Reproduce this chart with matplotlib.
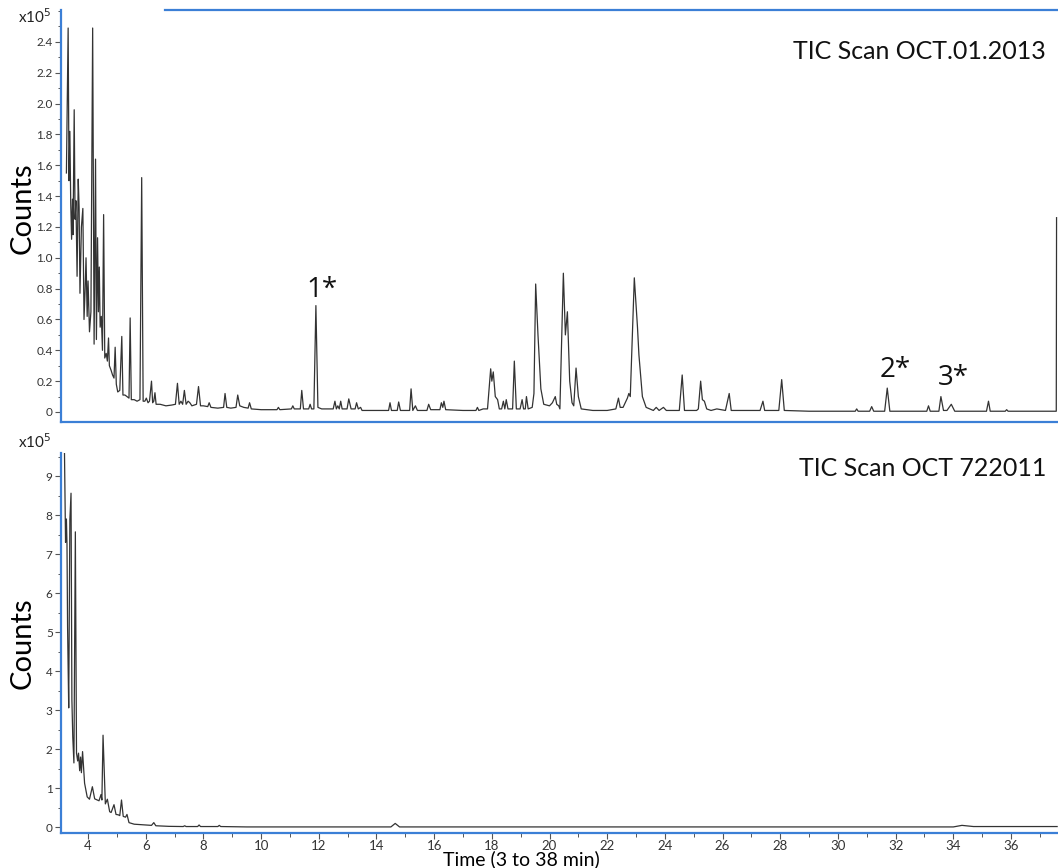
import matplotlib
matplotlib.use("Agg")
import matplotlib.pyplot as plt
from matplotlib.ticker import MultipleLocator, FixedLocator

plt.rcParams['font.family'] = ['Lato', 'DejaVu Sans']

# counts in units of 1e5, time in minutes
top_t = [3.25, 3.31, 3.34, 3.37, 3.40, 3.43, 3.46, 3.48, 3.52, 3.55, 3.58, 3.62, 3.66, 3.69, 3.72,
         3.77, 3.82, 3.86, 3.90, 3.93, 3.97, 4.00, 4.05, 4.10, 4.16, 4.21, 4.26, 4.29, 4.33, 4.36,
         4.39, 4.42, 4.46, 4.50, 4.54, 4.58, 4.63, 4.67, 4.71, 4.74, 4.80, 4.85, 4.90, 4.94, 4.98,
         5.03, 5.10, 5.17, 5.21, 5.28, 5.35, 5.42, 5.46, 5.50, 5.60, 5.70, 5.80, 5.86, 5.91, 5.97,
         6.02, 6.08, 6.13, 6.20, 6.24, 6.28, 6.32, 6.36, 6.50, 6.70, 6.90, 7.03, 7.10, 7.16, 7.22,
         7.28, 7.34, 7.40, 7.47, 7.53, 7.60, 7.76, 7.83, 7.90, 8.00, 8.15, 8.20, 8.26, 8.50, 8.70,
         8.75, 8.81, 8.95, 9.13, 9.19, 9.26, 9.40, 9.55, 9.60, 9.66, 10.0, 10.55, 10.6, 10.65, 11.05,
         11.1, 11.15, 11.36, 11.41, 11.47, 11.65, 11.70, 11.75, 11.83, 11.90, 11.97, 12.1, 12.5, 12.56,
         12.61, 12.66, 12.71, 12.76, 12.81, 12.98, 13.04, 13.12, 13.26, 13.31, 13.37, 13.45, 13.5,
         14.0, 14.42, 14.47, 14.52, 14.72, 14.77, 14.83, 15.15, 15.20, 15.26, 15.35, 15.42, 15.75,
         15.81, 15.88, 16.2, 16.25, 16.30, 16.34, 16.40, 17.0, 17.45, 17.5, 17.55, 17.7, 17.85, 17.96,
         18.00, 18.05, 18.12, 18.2, 18.26, 18.34, 18.4, 18.45, 18.5, 18.56, 18.72, 18.78, 18.85,
         18.98, 19.05, 19.1, 19.16, 19.2, 19.26, 19.4, 19.46, 19.52, 19.6, 19.7, 19.8, 20.0, 20.1,
         20.2, 20.25, 20.32, 20.36, 20.48, 20.55, 20.62, 20.7, 20.78, 20.84, 20.92, 21.0, 21.1,
         21.5, 22.0, 22.3, 22.39, 22.45, 22.55, 22.7, 22.75, 22.80, 22.94, 23.05, 23.1, 23.22, 23.35,
         23.6, 23.7, 23.8, 23.95, 24.05, 24.5, 24.6, 24.68, 25.1, 25.16, 25.24, 25.3, 25.37, 25.45,
         25.6, 25.8, 26.1, 26.23, 26.3, 27.3, 27.4, 27.46, 27.95, 28.05, 28.14, 29.0, 30.6, 30.65,
         30.7, 31.1, 31.17, 31.24, 31.62, 31.71, 31.8, 33.08, 33.14, 33.2, 33.5, 33.57, 33.66, 33.78,
         33.93, 34.05, 35.15, 35.22, 35.28, 35.8, 35.85, 35.9, 37.57, 37.58]
top_c = [1.55, 2.49, 1.50, 1.82, 1.35, 1.12, 1.38, 1.15, 1.96, 1.25, 1.37, 0.88, 1.51, 1.33, 0.77,
         1.20, 1.32, 0.60, 0.80, 1.00, 0.62, 0.85, 0.52, 0.65, 2.49, 0.44, 1.64, 0.47, 1.13, 0.65,
         0.94, 0.55, 0.62, 0.40, 1.28, 0.35, 0.38, 0.33, 0.48, 0.30, 0.27, 0.24, 0.22, 0.42, 0.18,
         0.13, 0.14, 0.49, 0.11, 0.11, 0.10, 0.09, 0.61, 0.08, 0.08, 0.07, 0.08, 1.52, 0.07, 0.07,
         0.09, 0.06, 0.07, 0.20, 0.06, 0.07, 0.125, 0.05, 0.05, 0.04, 0.045, 0.05, 0.186, 0.05, 0.07,
         0.05, 0.14, 0.05, 0.07, 0.06, 0.04, 0.05, 0.165, 0.04, 0.04, 0.035, 0.06, 0.03, 0.025, 0.03,
         0.12, 0.03, 0.025, 0.03, 0.11, 0.04, 0.03, 0.025, 0.06, 0.02, 0.015, 0.015, 0.03, 0.015, 0.02,
         0.04, 0.02, 0.02, 0.14, 0.02, 0.02, 0.05, 0.02, 0.02, 0.69, 0.03, 0.02, 0.02, 0.07,
         0.02, 0.04, 0.02, 0.07, 0.02, 0.02, 0.085, 0.02, 0.02, 0.06, 0.02, 0.03, 0.01,
         0.01, 0.01, 0.06, 0.01, 0.01, 0.065, 0.01, 0.01, 0.15, 0.01, 0.04, 0.01, 0.01,
         0.05, 0.015, 0.015, 0.06, 0.03, 0.07, 0.015, 0.01, 0.01, 0.03, 0.01, 0.02, 0.02, 0.28,
         0.20, 0.26, 0.10, 0.08, 0.02, 0.02, 0.07, 0.02, 0.08, 0.02, 0.02, 0.33, 0.02,
         0.02, 0.08, 0.02, 0.02, 0.10, 0.02, 0.03, 0.12, 0.83, 0.50, 0.15, 0.05, 0.04, 0.06,
         0.10, 0.05, 0.04, 0.02, 0.90, 0.50, 0.65, 0.20, 0.06, 0.04, 0.285, 0.10, 0.02,
         0.01, 0.01, 0.02, 0.09, 0.03, 0.03, 0.09, 0.12, 0.10, 0.87, 0.55, 0.37, 0.10, 0.03,
         0.01, 0.03, 0.01, 0.03, 0.01, 0.01, 0.24, 0.01, 0.01, 0.02, 0.20, 0.08, 0.07, 0.02,
         0.01, 0.02, 0.01, 0.12, 0.01, 0.01, 0.07, 0.01, 0.01, 0.21, 0.01, 0.005, 0.005, 0.02,
         0.005, 0.005, 0.035, 0.005, 0.005, 0.155, 0.005, 0.005, 0.04, 0.005, 0.005, 0.10, 0.01, 0.01,
         0.05, 0.005, 0.005, 0.07, 0.005, 0.005, 0.015, 0.005, 0.005, 1.26]

bot_t = [3.18, 3.22, 3.25, 3.27, 3.29, 3.31, 3.33, 3.37, 3.41, 3.44, 3.47, 3.51, 3.56, 3.60, 3.64,
         3.67, 3.71, 3.74, 3.77, 3.81, 3.88, 3.97, 4.05, 4.15, 4.23, 4.38, 4.45, 4.48, 4.52, 4.60,
         4.67, 4.75, 4.80, 4.90, 4.97, 5.05, 5.10, 5.16, 5.22, 5.30, 5.35, 5.42, 5.6, 5.8, 6.0,
         6.2, 6.28, 6.35, 6.8, 7.3, 7.35, 7.4, 7.8, 7.85, 7.9, 8.5, 8.55, 8.6, 9.5, 14.5,
         14.65, 14.8, 34.0, 34.3, 34.7, 37.6]
bot_c = [9.8, 7.3, 7.9, 7.25, 5.15, 4.08, 3.06, 7.88, 8.56, 3.27, 2.32, 1.65, 7.57, 1.90, 1.70,
         1.90, 1.45, 1.80, 1.40, 1.94, 1.13, 0.78, 0.72, 1.04, 0.73, 0.68, 0.84, 0.70, 2.36, 0.60,
         0.72, 0.40, 0.38, 0.58, 0.33, 0.32, 0.30, 0.70, 0.28, 0.26, 0.33, 0.12, 0.08, 0.07, 0.06,
         0.05, 0.12, 0.04, 0.025, 0.02, 0.04, 0.02, 0.02, 0.06, 0.02, 0.02, 0.05, 0.02, 0.01, 0.01,
         0.10, 0.01, 0.01, 0.05, 0.02, 0.02]

top_ticks = [0, 0.2, 0.4, 0.6, 0.8, 1.0, 1.2, 1.4, 1.6, 1.8, 2.0, 2.2, 2.4]
top_labels = ['0', '0.2', '0.4', '0.6', '0.8', '1.0', '1.2', '1.4', '1.6', '1.8', '2.0', '2.2', '2.4']
bot_ticks = [0, 1, 2, 3, 4, 5, 6, 7, 8, 9]
x_ticks = list(range(4, 38, 2))

blue = '#3b7fd6'
trace = '#333333'
tick_col = '#555555'

fig = plt.figure(figsize=(10.58, 8.68), dpi=100)
ax1 = fig.add_axes([0.0577, 0.5138, 0.9423, 0.4747])
ax2 = fig.add_axes([0.0577, 0.0403, 0.9423, 0.4378])

ax1.plot(top_t, top_c, color=trace, lw=0.9)
ax2.plot(bot_t, bot_c, color=trace, lw=0.9)

for ax in (ax1, ax2):
    ax.set_xlim(3.064, 37.63)
    for s in ('top', 'right'):
        ax.spines[s].set_visible(False)
    for s in ('left', 'bottom'):
        ax.spines[s].set_color(blue)
        ax.spines[s].set_linewidth(1.6)
    ax.tick_params(axis='y', direction='out', length=4, width=0.8, color=tick_col,
                   labelsize=8.5, labelcolor='#333333', pad=2)
    ax.tick_params(axis='y', which='minor', direction='out', length=2.5, width=0.7, color=tick_col)

ax1.set_ylim(-0.065, 2.607)
ax1.yaxis.set_major_locator(FixedLocator(top_ticks))
ax1.set_yticklabels(top_labels)
ax1.yaxis.set_minor_locator(MultipleLocator(0.1))
ax1.set_xticks([])
ax1.axhline(2.607, xmin=0.104, xmax=1.0, color=blue, lw=1.6, clip_on=False)

ax2.set_ylim(-0.146, 9.59)
ax2.yaxis.set_major_locator(FixedLocator(bot_ticks))
ax2.yaxis.set_minor_locator(MultipleLocator(0.5))
ax2.xaxis.set_major_locator(FixedLocator(x_ticks))
ax2.xaxis.set_minor_locator(MultipleLocator(1))
ax2.tick_params(axis='x', direction='out', length=4, width=0.8, color=tick_col,
                labelsize=9.5, labelcolor='#333333', pad=1)
ax2.tick_params(axis='x', which='minor', direction='out', length=3, width=0.7, color=tick_col)

ax1.set_ylabel('Counts', fontsize=21)
ax2.set_ylabel('Counts', fontsize=21)
ax1.yaxis.set_label_coords(-0.025, 0.52)
ax2.yaxis.set_label_coords(-0.025, 0.5)
ax2.set_xlabel('Time (3 to 38 min)', fontsize=14)
ax2.xaxis.set_label_coords(0.462, -0.045)

fig.text(18 / 1058, 1 - 17 / 868, 'x10$^5$', fontsize=11, ha='left', va='center', color='#222222')
fig.text(18 / 1058, 1 - 442 / 868, 'x10$^5$', fontsize=11, ha='left', va='center', color='#222222')

ax1.text(0.988, 0.9, 'TIC Scan OCT.01.2013', transform=ax1.transAxes, fontsize=18,
         ha='right', va='center', color='#111111')
ax2.text(0.988, 0.96, 'TIC Scan OCT 722011', transform=ax2.transAxes, fontsize=18,
         ha='right', va='center', color='#111111')

for lab, tx, cy in [('1*', 12.11, 0.79), ('2*', 31.98, 0.27), ('3*', 34.0, 0.22)]:
    ax1.text(tx, cy, lab, fontsize=20, family=['Open Sans', 'DejaVu Sans'],
             ha='center', va='center', color='#111111')

fig.savefig('out.png', dpi=100)
